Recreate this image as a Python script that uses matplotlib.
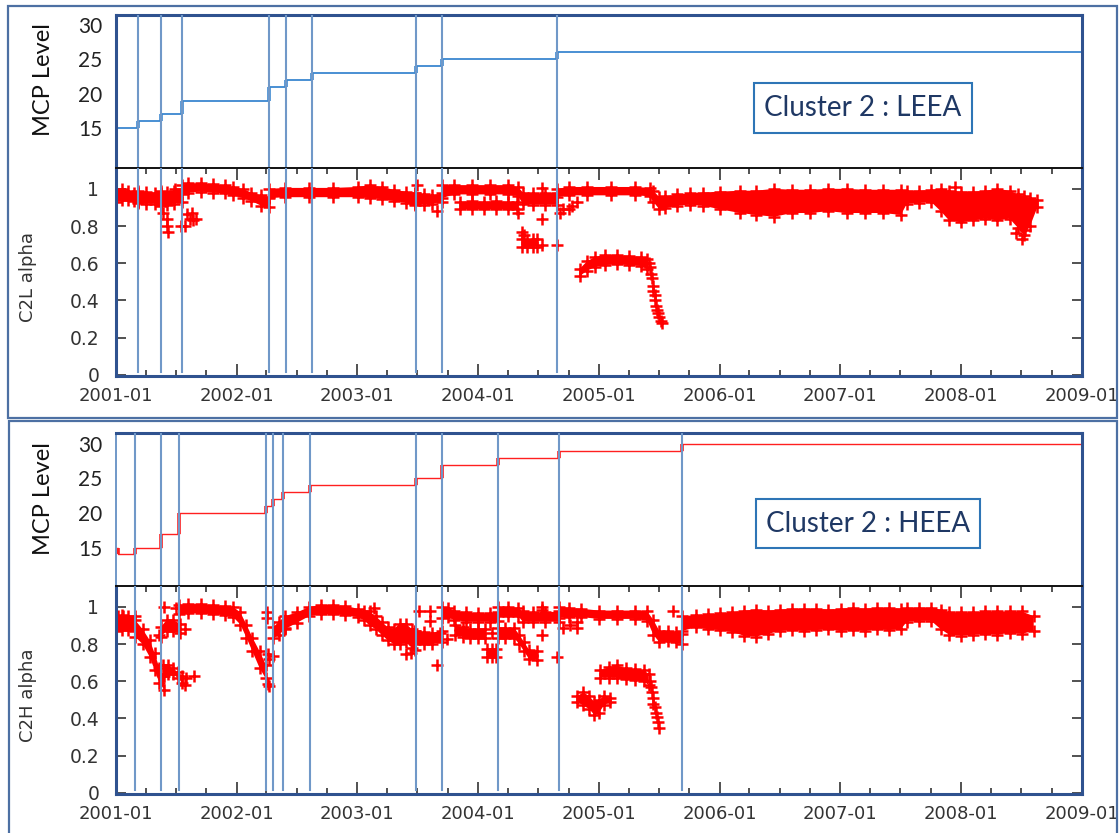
import numpy as np
import matplotlib
matplotlib.use("Agg")
import matplotlib.pyplot as plt
import matplotlib.dates as mdates
from matplotlib.patches import Rectangle

nan = np.nan
W, H = 1119, 833

# ---------------- MCP level history (decimal year of change, level) ----------------
leea_mcp_t = [2001.0, 2001.182, 2001.373, 2001.547, 2002.267, 2002.408, 2002.623,
              2003.484, 2003.700, 2004.652, 2009.0]
leea_mcp_level = [15, 16, 17, 19, 21, 22, 23, 24, 25, 26, 26]
leea_marks = [2001.182, 2001.373, 2001.547, 2002.267, 2002.408, 2002.623,
              2003.484, 2003.700, 2004.652]

heea_mcp_t = [2001.0, 2001.02, 2001.157, 2001.373, 2001.522, 2002.242, 2002.300,
              2002.383, 2002.607, 2003.484, 2003.700, 2004.164, 2004.669, 2005.687, 2009.0]
heea_mcp_level = [15, 14, 15, 17, 20, 21, 22, 23, 24, 25, 27, 28, 29, 30, 30]
heea_marks = [2001.157, 2001.373, 2001.522, 2002.242, 2002.300, 2002.383, 2002.607,
              2003.484, 2003.700, 2004.164, 2004.669, 2005.687]

# ---------------- C2L alpha: bands (time, lower edge, upper edge), NaN splits segments ----------------
c2l_band_t = [2001.00, 2001.05, 2001.10, 2001.15, 2001.18, nan,
              2001.18, 2001.25, 2001.32, 2001.37, nan,
              2001.37, 2001.42, 2001.48, 2001.55, nan,
              2001.55, 2001.60, 2001.70, 2001.80, 2001.90, 2001.97, 2002.05, 2002.12, 2002.20, 2002.27, nan,
              2002.27, 2002.40, 2002.60, 2002.80, 2003.00, 2003.10, 2003.20, 2003.30, 2003.40, 2003.48, nan,
              2003.48, 2003.55, 2003.62, 2003.70, nan,
              2003.70, 2003.80, 2003.95, 2004.10, 2004.25, 2004.33, 2004.37, 2004.45, 2004.55, 2004.65, nan,
              2004.65, 2004.75, 2004.90, 2005.10, 2005.30, 2005.42, 2005.45, 2005.50, 2005.55, 2005.65,
              2005.75, 2005.86, 2006.00, 2006.17, 2006.30, 2006.45, 2006.60, 2006.75, 2006.90, 2007.05,
              2007.20, 2007.35, 2007.50, 2007.55, 2007.65, 2007.75, 2007.83, 2007.90, 2008.00, 2008.10,
              2008.20, 2008.30, 2008.40, 2008.47, 2008.52, 2008.57, 2008.63]
c2l_band_lo = [0.93, 0.94, 0.94, 0.935, 0.93, nan,
               0.925, 0.92, 0.92, 0.915, nan,
               0.91, 0.915, 0.92, 0.93, nan,
               0.97, 0.98, 0.985, 0.98, 0.975, 0.965, 0.95, 0.935, 0.91, 0.90, nan,
               0.95, 0.955, 0.955, 0.955, 0.955, 0.95, 0.945, 0.935, 0.925, 0.915, nan,
               0.92, 0.915, 0.92, 0.93, nan,
               0.95, 0.97, 0.97, 0.97, 0.97, 0.96, 0.92, 0.915, 0.915, 0.915, nan,
               0.955, 0.965, 0.965, 0.965, 0.965, 0.96, 0.93, 0.89, 0.895, 0.91,
               0.915, 0.91, 0.89, 0.87, 0.86, 0.85, 0.87, 0.87, 0.88, 0.87,
               0.87, 0.87, 0.86, 0.92, 0.925, 0.93, 0.88, 0.83, 0.82, 0.83,
               0.84, 0.83, 0.84, 0.79, 0.75, 0.80, 0.90]
c2l_band_hi = [0.99, 1.00, 0.99, 0.98, 0.98, nan,
               0.99, 0.985, 0.98, 0.98, nan,
               0.99, 0.985, 0.99, 1.0, nan,
               1.02, 1.03, 1.03, 1.025, 1.02, 1.01, 1.0, 0.98, 0.965, 0.955, nan,
               1.0, 1.005, 1.005, 1.005, 1.01, 1.02, 1.01, 0.995, 0.985, 0.975, nan,
               0.98, 0.97, 0.965, 0.975, nan,
               1.02, 1.02, 1.02, 1.02, 1.02, 1.01, 0.98, 0.975, 0.975, 0.98, nan,
               1.0, 1.01, 1.01, 1.01, 1.01, 1.005, 0.99, 0.955, 0.96, 0.97,
               0.975, 0.98, 0.985, 0.99, 0.99, 1.0, 0.995, 0.995, 1.0, 1.0,
               0.995, 0.995, 0.995, 0.99, 0.99, 0.995, 1.0, 0.99, 0.985, 0.985,
               0.99, 1.0, 0.99, 0.97, 0.96, 0.95, 0.94]

c2l_side_t = [2003.85, 2003.95, 2004.05, 2004.15, 2004.25, 2004.32, nan,
              2004.36, 2004.40, 2004.45, 2004.49, nan,
              2004.84, 2004.90, 2004.97, 2005.05, 2005.15, 2005.25, 2005.35, 2005.40]
c2l_side_lo = [0.89, 0.89, 0.89, 0.89, 0.89, 0.89, nan,
               0.69, 0.685, 0.69, 0.69, nan,
               0.53, 0.56, 0.58, 0.59, 0.595, 0.59, 0.585, 0.57]
c2l_side_hi = [0.93, 0.935, 0.93, 0.935, 0.93, 0.93, nan,
               0.73, 0.725, 0.73, 0.73, nan,
               0.57, 0.61, 0.635, 0.645, 0.645, 0.64, 0.635, 0.625]

c2l_pts_t = [2001.39, 2001.42, 2001.42, 2001.43, 2001.49, 2001.54, 2001.57,
             2001.59, 2001.61, 2001.64, 2001.66, 2001.63,
             2003.66, 2003.49, 2004.33, 2004.36, 2004.38, 2004.53, 2004.53, 2004.53, 2004.65,
             2004.68, 2004.70, 2004.75, 2004.78, 2004.82,
             2005.41, 2005.42, 2005.43, 2005.44, 2005.445, 2005.45, 2005.46, 2005.465,
             2005.47, 2005.48, 2005.49, 2005.50, 2005.51, 2005.52,
             2007.95, 2008.45, 2008.50, 2008.53]
c2l_pts_v = [0.87, 0.84, 0.80, 0.77, 1.0, 0.80, 0.80,
             0.865, 0.84, 0.83, 0.84, 0.87,
             0.88, 1.02, 0.87, 0.77, 0.75, 1.005, 0.84, 0.70, 0.70,
             0.87, 0.89, 0.89, 0.91, 0.93,
             0.60, 0.58, 0.54, 0.52, 0.48, 0.45, 0.43, 0.40,
             0.37, 0.35, 0.33, 0.31, 0.29, 0.28,
             1.01, 0.76, 0.73, 0.78]

# ---------------- C2H alpha ----------------
c2h_band_t = [2001.00, 2001.05, 2001.10, 2001.157, nan,
              2001.157, 2001.22, 2001.28, 2001.32, 2001.36, 2001.40, nan,
              2001.37, 2001.42, 2001.47, 2001.53, nan,
              2001.52, 2001.60, 2001.70, 2001.80, 2001.90, 2001.97, 2002.03, 2002.08, 2002.13, 2002.19, 2002.24, nan,
              2002.30, 2002.35, 2002.40, 2002.50, 2002.60, 2002.70, 2002.80, 2002.90, 2003.00, 2003.05, 2003.10,
              2003.15, 2003.20, 2003.25, 2003.30, 2003.35, 2003.40, 2003.45, 2003.48, nan,
              2003.48, 2003.55, 2003.62, 2003.70, nan,
              2003.70, 2003.75, 2003.80, 2003.90, 2004.00, 2004.10, 2004.164, nan,
              2004.164, 2004.25, 2004.33, 2004.37, 2004.45, 2004.55, 2004.669, nan,
              2004.669, 2004.75, 2004.85, 2005.00, 2005.15, 2005.30, 2005.40, 2005.45, 2005.50, 2005.57, 2005.64, 2005.687, nan,
              2005.687, 2005.80, 2005.90, 2006.00, 2006.10, 2006.20, 2006.30, 2006.40, 2006.50, 2006.60,
              2006.70, 2006.80, 2006.90, 2007.00, 2007.10, 2007.20, 2007.30, 2007.40, 2007.50, 2007.55,
              2007.65, 2007.75, 2007.83, 2007.90, 2008.00, 2008.10, 2008.20, 2008.30, 2008.40, 2008.50, 2008.60]
c2h_band_lo = [0.87, 0.875, 0.875, 0.87, nan,
               0.84, 0.80, 0.73, 0.66, 0.59, 0.555, nan,
               0.84, 0.87, 0.87, 0.86, nan,
               0.96, 0.965, 0.965, 0.96, 0.955, 0.945, 0.905, 0.835, 0.76, 0.67, 0.615, nan,
               0.83, 0.85, 0.88, 0.915, 0.95, 0.96, 0.96, 0.955, 0.945, 0.93, 0.90,
               0.88, 0.85, 0.82, 0.80, 0.80, 0.81, 0.78, 0.77, nan,
               0.80, 0.80, 0.80, 0.81, nan,
               0.94, 0.945, 0.93, 0.92, 0.92, 0.92, 0.925, nan,
               0.95, 0.95, 0.95, 0.92, 0.92, 0.92, 0.92, nan,
               0.94, 0.945, 0.945, 0.935, 0.935, 0.935, 0.925, 0.85, 0.81, 0.815, 0.81, 0.80, nan,
               0.87, 0.89, 0.88, 0.875, 0.865, 0.845, 0.84, 0.855, 0.87, 0.875,
               0.87, 0.875, 0.88, 0.87, 0.875, 0.87, 0.88, 0.875, 0.88, 0.92,
               0.925, 0.925, 0.88, 0.85, 0.845, 0.85, 0.855, 0.85, 0.86, 0.855, 0.87]
c2h_band_hi = [0.95, 0.955, 0.95, 0.95, nan,
               0.93, 0.88, 0.82, 0.75, 0.67, 0.63, nan,
               0.89, 0.93, 0.93, 0.91, nan,
               1.01, 1.015, 1.015, 1.01, 1.005, 1.0, 0.97, 0.905, 0.835, 0.76, 0.69, nan,
               0.89, 0.92, 0.95, 0.97, 1.0, 1.01, 1.01, 1.005, 0.99, 0.98, 0.975,
               0.95, 0.92, 0.89, 0.88, 0.91, 0.91, 0.88, 0.87, nan,
               0.87, 0.865, 0.86, 0.87, nan,
               1.0, 0.995, 0.98, 0.97, 0.965, 0.965, 0.97, nan,
               1.0, 1.0, 0.995, 0.975, 0.97, 0.97, 0.975, nan,
               1.0, 0.995, 0.99, 0.98, 0.98, 0.98, 0.975, 0.93, 0.87, 0.87, 0.865, 0.855, nan,
               0.95, 0.955, 0.96, 0.965, 0.97, 0.98, 0.985, 0.98, 0.985, 0.99,
               0.99, 0.99, 0.985, 0.99, 0.995, 0.99, 0.995, 0.995, 0.99, 0.995,
               0.995, 0.995, 0.985, 0.97, 0.97, 0.97, 0.975, 0.975, 0.975, 0.975, 0.95]

c2h_side_t = [2001.39, 2001.43, 2001.47, 2001.51, 2001.55, nan,
              2003.81, 2003.87, 2003.93, 2004.00, 2004.06, nan,
              2004.07, 2004.11, 2004.15, nan,
              2004.164, 2004.22, 2004.30, 2004.34, 2004.38, 2004.42, 2004.49, nan,
              2004.82, 2004.87, 2004.92, 2004.96, 2005.00, 2005.04, 2005.09, nan,
              2005.01, 2005.08, 2005.15, 2005.22, 2005.30, 2005.37, 2005.41]
c2h_side_lo = [0.63, 0.64, 0.64, 0.62, 0.59, nan,
               0.85, 0.84, 0.83, 0.83, 0.83, nan,
               0.73, 0.73, 0.73, nan,
               0.83, 0.83, 0.83, 0.80, 0.76, 0.72, 0.715, nan,
               0.49, 0.47, 0.45, 0.42, 0.43, 0.47, 0.49, nan,
               0.62, 0.62, 0.62, 0.61, 0.605, 0.60, 0.58]
c2h_side_hi = [0.69, 0.69, 0.67, 0.65, 0.63, nan,
               0.90, 0.89, 0.88, 0.88, 0.88, nan,
               0.775, 0.775, 0.775, nan,
               0.885, 0.885, 0.885, 0.85, 0.81, 0.77, 0.765, nan,
               0.52, 0.54, 0.52, 0.49, 0.50, 0.52, 0.51, nan,
               0.66, 0.675, 0.685, 0.67, 0.665, 0.66, 0.64]

c2h_pts_t = [2001.02, 2001.06, 2001.40, 2001.36, 2001.50, 2001.57, 2001.57, 2001.58, 2001.65,
             2002.25, 2002.25, 2002.26, 2002.27, 2002.30, 2002.26, 2002.27, 2002.40,
             2003.14, 2003.40, 2003.44, 2003.51, 2003.60, 2003.60, 2003.66, 2003.68, 2003.74,
             2004.11, 2004.53, 2004.53, 2004.53, 2004.65,
             2004.70, 2004.76, 2004.82, 2004.82, 2005.61,
             2005.42, 2005.43, 2005.44, 2005.445, 2005.45, 2005.46, 2005.47, 2005.48, 2005.49, 2005.50]
c2h_pts_v = [0.95, 0.95, 1.0, 0.85, 0.995, 0.58, 0.88, 0.62, 0.63,
             0.97, 0.94, 0.745, 0.72, 0.735, 0.585, 0.575, 0.887,
             0.995, 0.745, 0.75, 0.977, 0.977, 0.923, 0.69, 0.86, 0.825,
             0.86, 1.0, 0.985, 0.85, 0.73,
             0.887, 0.905, 0.887, 0.92, 0.977,
             0.60, 0.57, 0.54, 0.51, 0.48, 0.46, 0.43, 0.41, 0.38, 0.35]

# ---------------- helpers ----------------
EPOCH = mdates.date2num(np.datetime64("2001-01-01"))


def yr(a):
    """Decimal year -> matplotlib date number."""
    return EPOCH + (np.asarray(a, dtype=float) - 2001.0) * 365.25


def fx(px):
    return px / W


def fy(py):
    return 1.0 - py / H


SPINE = "#2f528f"
VLINE = "#7098c8"
RED = "#ff0000"

fig = plt.figure(figsize=(W / 100, H / 100), dpi=100)
fig.patch.set_facecolor("white")

# outer frames around each panel
for (x0, y0, x1, y1) in [(8, 6, 1117, 418), (9, 421, 1117, 845)]:
    fig.patches.append(Rectangle((fx(x0), fy(y1)), fx(x1) - fx(x0), fy(y0) - fy(y1),
                                 transform=fig.transFigure, fill=False,
                                 edgecolor="#4d70a3", linewidth=1.6, zorder=0))


def make_panel(top_px, mcp_t, mcp_lv, marks, mcp_color, mcp_ylim,
               band, side, pts, alpha_label, box_px, box_text, mcp_label_y, alpha_label_y,
               mcp_lw, left_spine_color):
    left, right = 116, 1082
    mcp_top, mcp_bot = top_px, top_px + 153
    a_top, a_bot = mcp_bot, mcp_bot + 208

    ax_m = fig.add_axes([fx(left), fy(mcp_bot), fx(right) - fx(left), fy(mcp_top) - fy(mcp_bot)])
    ax_a = fig.add_axes([fx(left), fy(a_bot), fx(right) - fx(left), fy(a_top) - fy(a_bot)])
    xl = (yr(2001.0), yr(2009.0))

    # MCP level steps
    ax_m.plot(yr(mcp_t), mcp_lv, drawstyle="steps-post", color=mcp_color, lw=mcp_lw, zorder=2)
    ax_m.vlines(yr(mcp_t[1:-1]), mcp_lv[:-2], mcp_lv[1:-1], color=mcp_color, lw=2.6, zorder=2)
    for m in marks:
        ax_m.axvline(yr(m), color=VLINE, lw=1.5, zorder=3)
        ax_a.axvline(yr(m), ymin=0.02, ymax=1, color=VLINE, lw=1.5, zorder=3)
    ax_m.set_xlim(*xl)
    ax_m.set_ylim(*mcp_ylim)
    ax_m.set_yticks([15, 20, 25, 30])
    ax_m.tick_params(axis="y", length=0, pad=10, labelsize=15, labelcolor="#222222")
    for lab in ax_m.get_yticklabels():
        lab.set_fontfamily("Lato")
    ax_m.tick_params(axis="x", bottom=False, labelbottom=False)
    for s in ("top", "right"):
        ax_m.spines[s].set_color(SPINE)
        ax_m.spines[s].set_linewidth(2.2)
    ax_m.spines["left"].set_color(left_spine_color)
    ax_m.spines["left"].set_linewidth(2.2 if left_spine_color == SPINE else 1.4)
    ax_m.spines["bottom"].set_visible(False)

    # alpha bands and scattered points
    for (bt, blo, bhi) in (band, side):
        t = yr(bt)
        lo = np.asarray(blo, float)
        hi = np.asarray(bhi, float)
        ax_a.fill_between(t, lo, hi, color=RED, lw=0, zorder=2)
        ax_a.plot(t, lo, ls="none", marker="+", ms=8.5, mew=1.8, color=RED, zorder=2)
        ax_a.plot(t, hi, ls="none", marker="+", ms=8.5, mew=1.8, color=RED, zorder=2)
    ax_a.plot(yr(pts[0]), pts[1], ls="none", marker="+", ms=9, mew=1.8, color=RED, zorder=2)

    ax_a.set_xlim(*xl)
    ax_a.set_ylim(-0.006, 1.112)
    ax_a.set_yticks([0, 0.2, 0.4, 0.6, 0.8, 1.0])
    ax_a.set_yticklabels(["0", "0.2", "0.4", "0.6", "0.8", "1"])
    ax_a.xaxis.set_major_locator(mdates.YearLocator())
    ax_a.xaxis.set_minor_locator(mdates.MonthLocator(bymonth=[4, 7, 10]))
    ax_a.xaxis.set_major_formatter(mdates.DateFormatter("%Y-%m"))
    ax_a.tick_params(axis="x", which="major", direction="in", top=True, length=8.5,
                     width=1.1, color="#222222", pad=8, labelsize=13, labelcolor="#333333")
    ax_a.tick_params(axis="x", which="minor", direction="in", top=True, length=4.5,
                     width=1.1, color="#222222")
    ax_a.tick_params(axis="y", which="major", direction="in", right=True, length=7,
                     width=1.1, color="#222222", pad=12, labelsize=13.5, labelcolor="#333333")
    ax_a.spines["top"].set_color("#111111")
    ax_a.spines["top"].set_linewidth(1.4)
    for s in ("left", "right", "bottom"):
        ax_a.spines[s].set_color(SPINE)
        ax_a.spines[s].set_linewidth(2.2)

    # axis titles
    fig.text(fx(43), fy(mcp_label_y), "MCP Level", rotation=90, ha="center", va="center",
             fontsize=17, family="Lato", color="#111111")
    fig.text(fx(28), fy(alpha_label_y), alpha_label, rotation=90, ha="center", va="center",
             fontsize=13, color="#333333")

    # instrument caption box
    bx0, by0, bx1, by1 = box_px
    fig.patches.append(Rectangle((fx(bx0), fy(by1)), fx(bx1) - fx(bx0), fy(by0) - fy(by1),
                                 transform=fig.transFigure, facecolor="white",
                                 edgecolor="#2e75b6", linewidth=1.5, zorder=5))
    fig.text(fx((bx0 + bx1) / 2), fy((by0 + by1) / 2), box_text, ha="center", va="center",
             fontsize=20, family="Lato", color="#1f3864", zorder=6)


make_panel(15, leea_mcp_t, leea_mcp_level, leea_marks, "#3a87d0", (9.18, 31.46),
           (c2l_band_t, c2l_band_lo, c2l_band_hi), (c2l_side_t, c2l_side_lo, c2l_side_hi),
           (c2l_pts_t, c2l_pts_v), "C2L alpha", (754, 83, 972, 133), "Cluster 2 : LEEA",
           80, 277, 1.3, SPINE)
make_panel(433, heea_mcp_t, heea_mcp_level, heea_marks, "#ff2020", (9.43, 31.57),
           (c2h_band_t, c2h_band_lo, c2h_band_hi), (c2h_side_t, c2h_side_lo, c2h_side_hi),
           (c2h_pts_t, c2h_pts_v), "C2H alpha", (756, 499, 980, 548), "Cluster 2 : HEEA",
           499, 695, 1.0, VLINE)

fig.savefig("out.png", dpi=100)
